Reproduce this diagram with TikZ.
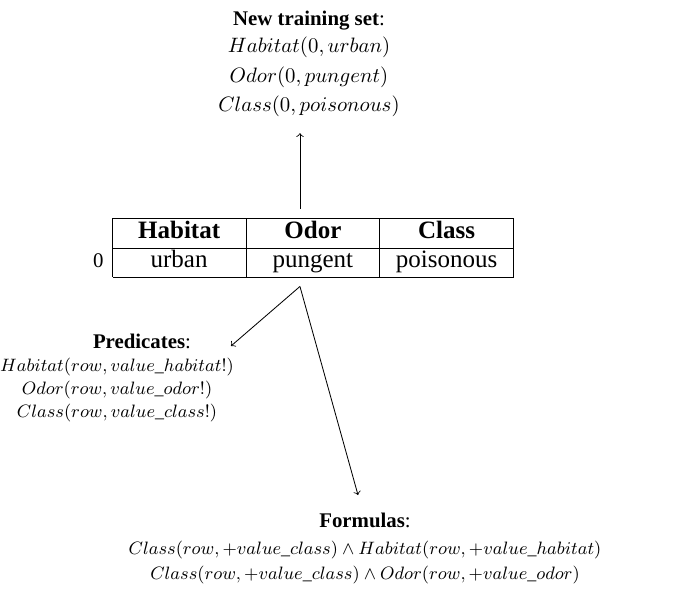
\documentclass[tikz,border=0pt]{standalone}
\usepackage[no-math]{fontspec}
\setmainfont{Liberation Serif}
\usepackage{graphicx}
\usepackage{array}
\newcolumntype{C}{>{\centering\arraybackslash}p{51.8pt}}
\newcommand{\smallmath}[1]{\scalebox{0.956}{\small$#1$}}
\begin{document}
\begin{tikzpicture}[x=0.48pt,y=-0.48pt,
  blk/.style={align=center,inner sep=0pt,outer sep=0pt},
  conn/.style={->}]
\useasboundingbox (0,0) rectangle (683,595);
\node[blk,anchor=north,font=\fontsize{10}{12}\selectfont] (ts) at (309,11)
  {\textbf{New training set}:\\[1.2pt]
   $Habitat(0,urban)$\\[2pt]
   $Odor(0,pungent)$\\[2pt]
   $Class(0,poisonous)$};
\node[inner sep=0pt,outer sep=4.7pt,font=\large] (tab) at (303.5,247.5)
  {\begin{tabular}{@{}r@{\hspace{4pt}}|C|C|C|}\cline{2-4}
   & \textbf{Habitat} & \textbf{Odor} & \textbf{Class}\\\cline{2-4}
   {\normalsize 0} & urban & pungent & poisonous\\\cline{2-4}
   \end{tabular}};
\node[blk,anchor=north,font=\fontsize{10}{11}\selectfont] (pred) at (117,334)
  {\hspace*{24pt}\textbf{Predicates}:\\
   \smallmath{Habitat(row,value\_habitat!)}\\
   \smallmath{Odor(row,value\_odor!)}\\
   \smallmath{Class(row,value\_class!)}};
\node[blk,anchor=north,font=\fontsize{10}{12}\selectfont] (form) at (365,513)
  {\textbf{Formulas}:\\[1pt]
   \smallmath{Class(row,+value\_class)\land Habitat(row,+value\_habitat)}\\
   \smallmath{Class(row,+value\_class)\land Odor(row,+value\_odor)}};
\coordinate (pt) at (231,346);
\coordinate (ft) at (358,495);
\draw[conn] ([xshift=-1.7pt]tab.north) -- ([xshift=-1.7pt,yshift=-8pt]tab.north |- ts.south);
\draw[conn] ([xshift=-1.7pt]tab.south) -- (pt);
\draw[conn] ([xshift=-1.7pt]tab.south) -- (ft);
\end{tikzpicture}
\end{document}
